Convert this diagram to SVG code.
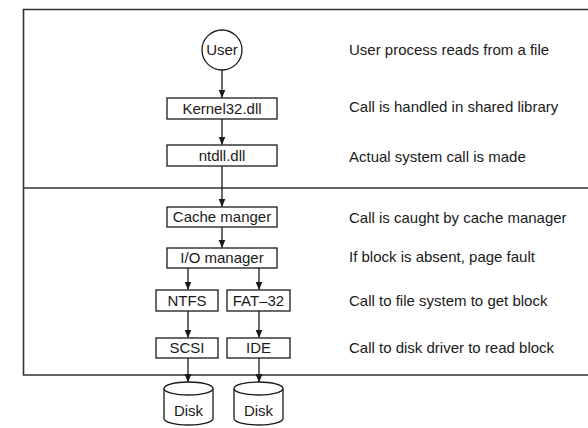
<svg xmlns="http://www.w3.org/2000/svg" width="588" height="428" viewBox="0 0 588 428">
<defs>
<marker id="ah" markerWidth="9" markerHeight="9" refX="8" refY="4.5" orient="auto" markerUnits="userSpaceOnUse">
<path d="M0,1 L8.5,4.5 L0,8 Z" fill="#1a1a1a"/>
</marker>
<style>
.frame{fill:none;stroke:#333;stroke-width:1.6}
.box{fill:#fff;stroke:#1a1a1a;stroke-width:1.3}
.lbl{font-family:"Liberation Sans",Arial,sans-serif;font-size:15px;fill:#1a1a1a;text-anchor:middle}
.note{font-family:"Liberation Sans",Arial,sans-serif;font-size:15px;fill:#1a1a1a}
.conn{fill:none;stroke:#1a1a1a;stroke-width:1.3;marker-end:url(#ah)}
</style>
</defs>
<rect width="588" height="428" fill="#fff"/>
<g id="frame">
<path class="frame" d="M588,9.5 H23.5 V375 H588"/>
<path class="frame" d="M23.5,188 H588"/>
</g>
<g id="connectors">
<line class="conn" x1="222" y1="70" x2="222" y2="97.5"/>
<line class="conn" x1="222" y1="119" x2="222" y2="144.5"/>
<line class="conn" x1="222" y1="166" x2="222" y2="206.5"/>
<line class="conn" x1="222" y1="227" x2="222" y2="247.5"/>
<line class="conn" x1="188" y1="268" x2="188" y2="289.5"/>
<line class="conn" x1="259" y1="268" x2="259" y2="289.5"/>
<line class="conn" x1="188" y1="311" x2="188" y2="337.5"/>
<line class="conn" x1="259" y1="311" x2="259" y2="337.5"/>
<line class="conn" x1="188" y1="358" x2="188" y2="382"/>
<line class="conn" x1="259" y1="358" x2="259" y2="382"/>
</g>
<g id="user">
<circle cx="222" cy="50" r="20" fill="#fff" stroke="#1a1a1a" stroke-width="1.3"/>
<text class="lbl" x="222" y="55.3">User</text>
</g>
<g id="kernel32">
<rect class="box" x="167" y="98" width="110" height="21"/>
<text class="lbl" x="222" y="113.9">Kernel32.dll</text>
</g>
<g id="ntdll">
<rect class="box" x="167" y="145" width="110" height="21"/>
<text class="lbl" x="222" y="160.9">ntdll.dll</text>
</g>
<g id="cache">
<rect class="box" x="167" y="207" width="110" height="20"/>
<text class="lbl" x="222" y="222.4">Cache manger</text>
</g>
<g id="iomgr">
<rect class="box" x="167" y="248" width="110" height="20"/>
<text class="lbl" x="222" y="263.4">I/O manager</text>
</g>
<g id="ntfs">
<rect class="box" x="156" y="290" width="62" height="21"/>
<text class="lbl" x="187" y="305.9">NTFS</text>
</g>
<g id="fat32">
<rect class="box" x="227" y="290" width="63" height="21"/>
<text class="lbl" x="258.5" y="305.9">FAT–32</text>
</g>
<g id="scsi">
<rect class="box" x="156" y="338" width="62" height="20"/>
<text class="lbl" x="187" y="353.4">SCSI</text>
</g>
<g id="ide">
<rect class="box" x="227" y="338" width="63" height="20"/>
<text class="lbl" x="258.5" y="353.4">IDE</text>
</g>
<g id="disk1">
<path d="M164,388.5 V418.5 A24.5,6.5 0 0 0 213,418.5 V388.5" fill="#fff" stroke="#1a1a1a" stroke-width="1.3"/>
<ellipse cx="188.5" cy="388.5" rx="24.5" ry="6.5" fill="#fff" stroke="#1a1a1a" stroke-width="1.3"/>
<text class="lbl" x="188.5" y="415.5">Disk</text>
</g>
<g id="disk2">
<path d="M234,388.5 V418.5 A24.5,6.5 0 0 0 283,418.5 V388.5" fill="#fff" stroke="#1a1a1a" stroke-width="1.3"/>
<ellipse cx="258.5" cy="388.5" rx="24.5" ry="6.5" fill="#fff" stroke="#1a1a1a" stroke-width="1.3"/>
<text class="lbl" x="258.5" y="415.5">Disk</text>
</g>
<g id="notes">
<text class="note" x="349" y="54.5">User process reads from a file</text>
<text class="note" x="349" y="111.5">Call is handled in shared library</text>
<text class="note" x="349" y="161.5">Actual system call is made</text>
<text class="note" x="349" y="222.5">Call is caught by cache manager</text>
<text class="note" x="349" y="261.5">If block is absent, page fault</text>
<text class="note" x="349" y="305.5">Call to file system to get block</text>
<text class="note" x="349" y="352.5">Call to disk driver to read block</text>
</g>
</svg>
